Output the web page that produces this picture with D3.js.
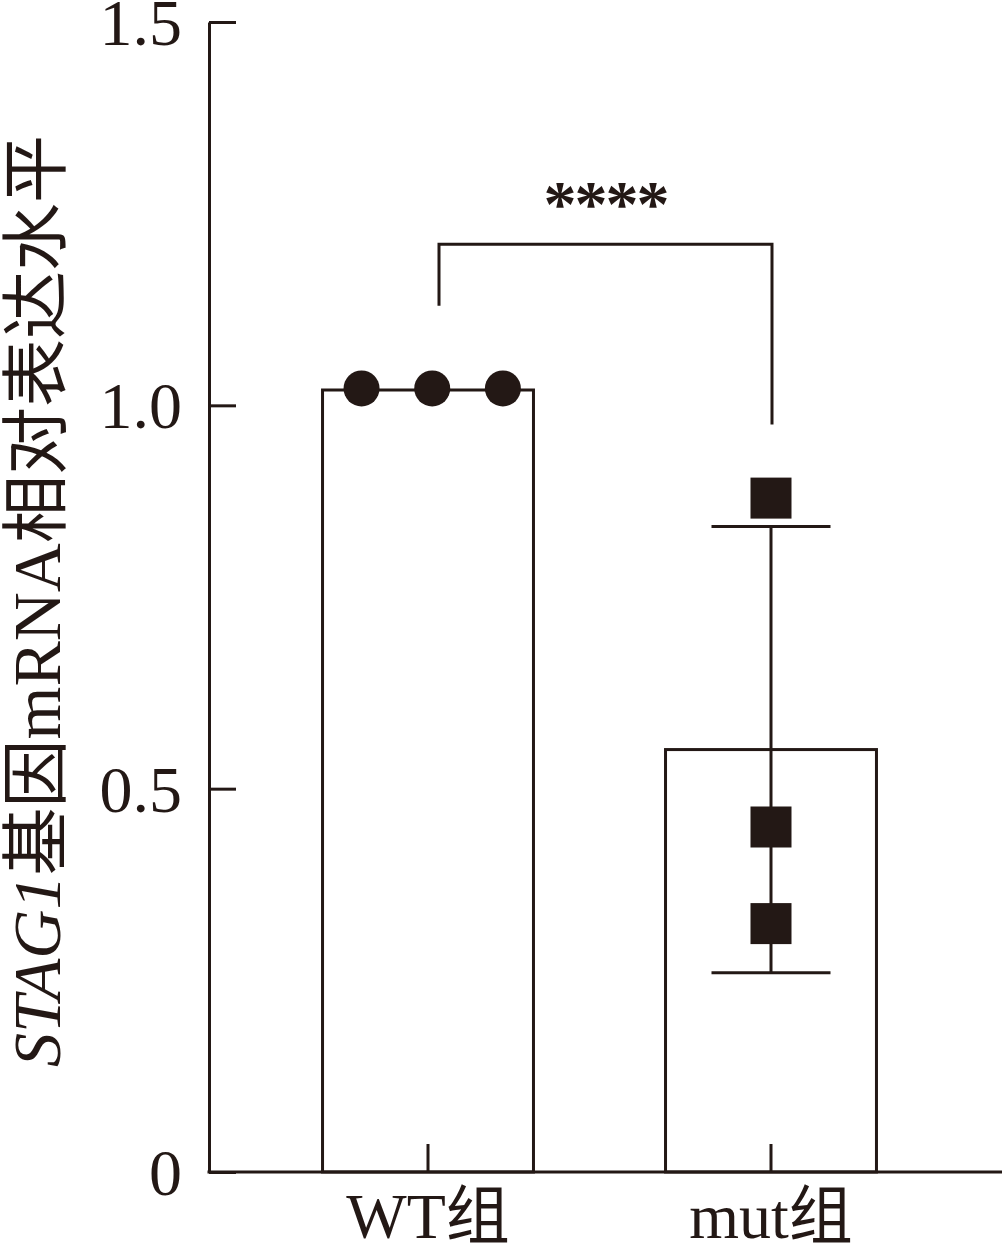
<!DOCTYPE html>
<html><head><meta charset="utf-8">
<script src="https://cdn.jsdelivr.net/npm/d3@7"></script>
<style>
html,body{margin:0;padding:0;background:#fff;}
svg{display:block;}
</style></head>
<body>
<svg id="chart" width="1002" height="1248"></svg>
<script>
// ---- data ----
const categories = ["WT组", "mut组"];
const means = [1.02, 0.551];
const sds = [0, 0.291];
const wtPoints = [1.022, 1.022, 1.022];
const mutPoints = [0.879, 0.450, 0.324];
const yTickValues = [0, 0.5, 1.0, 1.5];
const yTickLabels = ["0", "0.5", "1.0", "1.5"];
const sigLabel = "****";
const bracket = {top: 1.21, leftBottom: 1.13, rightBottom: 0.975};

// ---- layout ----
const ink = "#231815";
const sw = 3;
const serif = "'Liberation Serif','Times New Roman','Noto Sans CJK SC',serif";
const svg = d3.select("#chart");

const y = d3.scaleLinear().domain([0, 1.5]).range([1172, 22]);
const x = d3.scaleBand().domain(categories).range([209, 990]).paddingInner(0.385).paddingOuter(0.331);
const cx = c => x(c) + x.bandwidth() / 2;

// bars
svg.append("g").selectAll("rect").data(categories).join("rect")
  .attr("x", d => x(d)).attr("width", x.bandwidth())
  .attr("y", (d, i) => y(means[i])).attr("height", (d, i) => y(0) - y(means[i]))
  .attr("fill", "#fff").attr("stroke", ink).attr("stroke-width", sw);

// error bars
const capW = 119;
categories.forEach((c, i) => {
  if (sds[i] <= 0) return;
  const g = svg.append("g").attr("stroke", ink).attr("stroke-width", sw);
  g.append("line").attr("x1", cx(c)).attr("x2", cx(c)).attr("y1", y(means[i] + sds[i])).attr("y2", y(means[i] - sds[i]));
  [means[i] + sds[i], means[i] - sds[i]].forEach(v => {
    g.append("line").attr("x1", cx(c) - capW / 2).attr("x2", cx(c) + capW / 2).attr("y1", y(v)).attr("y2", y(v));
  });
});

// WT dots
const dotOffsets = [-0.315, 0.02, 0.355];
svg.append("g").selectAll("circle").data(wtPoints).join("circle")
  .attr("cx", (d, i) => cx(categories[0]) + dotOffsets[i] * x.bandwidth())
  .attr("cy", d => y(d)).attr("r", 18).attr("fill", ink);

// mut squares
const sq = 41;
svg.append("g").selectAll("rect").data(mutPoints).join("rect")
  .attr("x", cx(categories[1]) - sq / 2).attr("y", d => y(d) - sq / 2)
  .attr("width", sq).attr("height", sq).attr("fill", ink);

// y axis
const yAxis = d3.axisLeft(y).tickValues(yTickValues)
  .tickFormat((d, i) => yTickLabels[i]).tickSizeInner(-27).tickSizeOuter(0).tickPadding(27);
const gy = svg.append("g").attr("transform", "translate(209,0)").call(yAxis);
gy.select(".domain").attr("stroke", ink).attr("stroke-width", sw);
gy.selectAll(".tick line").attr("stroke", ink).attr("stroke-width", sw);
gy.selectAll(".tick text").attr("font-family", serif).attr("font-size", 66).attr("fill", ink).attr("dy", "0.34em");

// x axis
const xAxis = d3.axisBottom(x).tickSizeInner(-28).tickSizeOuter(0).tickPadding(21);
const gx = svg.append("g").attr("transform", "translate(0,1172)").call(xAxis);
gx.select(".domain").remove();
gx.selectAll(".tick line").attr("stroke", ink).attr("stroke-width", sw);
gx.selectAll(".tick text").attr("font-family", serif).attr("font-size", 64).attr("fill", ink);
svg.append("line").attr("x1", 207.5).attr("x2", 1002).attr("y1", 1172).attr("y2", 1172)
  .attr("stroke", ink).attr("stroke-width", sw);

// significance bracket
const bxL = cx(categories[0]) + 11, bxR = cx(categories[1]) + 1;
svg.append("path")
  .attr("d", `M${bxL},${y(bracket.leftBottom)}V${y(bracket.top)}H${bxR}V${y(bracket.rightBottom)}`)
  .attr("fill", "none").attr("stroke", ink).attr("stroke-width", sw);
svg.append("text").attr("x", (bxL + bxR) / 2).attr("y", 226)
  .attr("text-anchor", "middle").attr("font-family", serif).attr("font-size", 66)
  .attr("font-weight", "bold").attr("fill", ink).attr("letter-spacing", -2).text(sigLabel);

// y label
const yl = svg.append("text").attr("transform", "translate(60,601) rotate(-90)")
  .attr("text-anchor", "middle").attr("font-family", serif).attr("font-size", 68).attr("fill", ink);
yl.append("tspan").attr("font-style", "italic").text("STAG1");
yl.append("tspan").text("基因mRNA相对表达水平");
</script>
</body></html>
